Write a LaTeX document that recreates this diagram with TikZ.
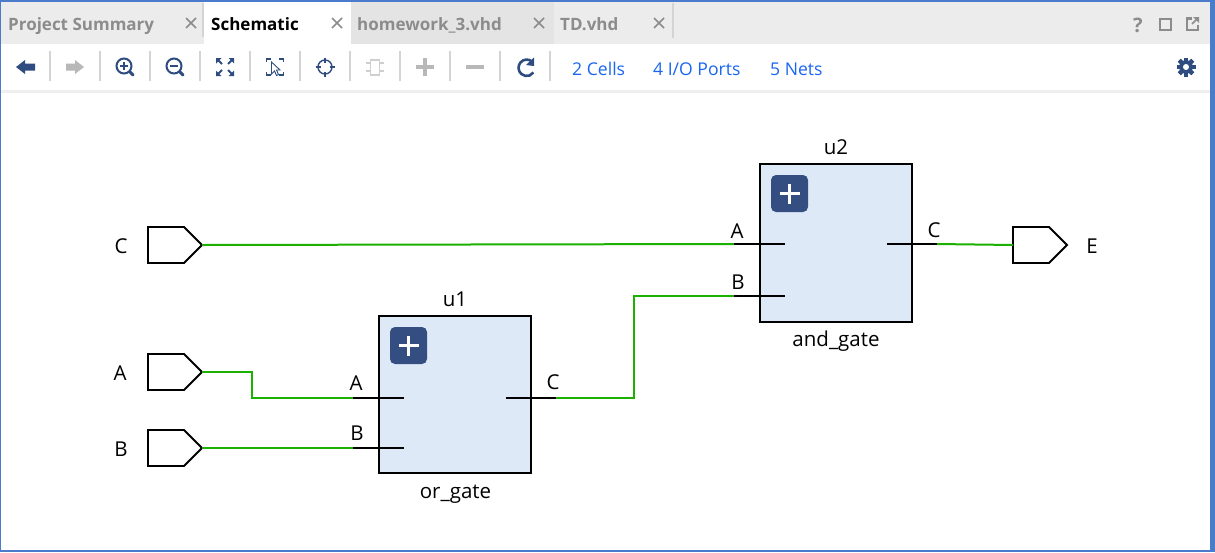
\documentclass[tikz,border=0pt]{standalone}
\usepackage{fontspec}
\setmainfont{Open Sans}
\usetikzlibrary{shapes.symbols}
\definecolor{frameblue}{HTML}{4A7CCB}
\definecolor{tabgrey}{HTML}{ECECEC}
\definecolor{tabdark}{HTML}{E4E4E4}
\definecolor{sepgrey}{HTML}{D4D4D4}
\definecolor{tabtext}{HTML}{8C8C8C}
\definecolor{iconblue}{HTML}{2F4C80}
\definecolor{icongrey}{HTML}{B8B8B8}
\definecolor{chipgrey}{HTML}{CFCFCF}
\definecolor{linkblue}{HTML}{1A66F0}
\definecolor{netgreen}{HTML}{1CB000}
\definecolor{cellblue}{HTML}{DEE9F7}
\definecolor{plusblue}{HTML}{344E82}
\tikzset{
  x=1pt,y=-1pt,
  tabtxt/.style={font=\fontsize{17}{20}\selectfont\bfseries,text=tabtext,inner sep=0pt,anchor=base west},
  linktxt/.style={font=\fontsize{17.6}{20}\selectfont,text=linkblue,inner sep=0pt,anchor=base west},
  closex/.style={draw=tabtext,line width=1.5pt},
  tbsep/.style={draw=sepgrey,line width=1.6pt},
  iconb/.style={draw=iconblue,line width=2pt},
  icong/.style={draw=icongrey,line width=2pt},
  portbox/.style={signal,signal to=east,signal pointer angle=90,draw=black,line width=1.8pt,fill=white,
    minimum width=54pt,minimum height=36pt,inner sep=0pt,outer sep=0pt},
  cellbox/.style={draw=black,line width=2pt,fill=cellblue,minimum width=152pt,minimum height=157pt,inner sep=0pt},
  net/.style={draw=netgreen,line width=2pt},
  pin/.style={draw=black,line width=2pt},
  lab/.style={font=\fontsize{20.5}{24}\selectfont,inner sep=0pt,text=black},
  plusbadge/.style={fill=plusblue,rounded corners=5pt,minimum size=37pt,inner sep=0pt},
}
\newcommand{\closemark}[2]{\draw[closex] (#1-5,#2-5) -- (#1+5,#2+5) (#1-5,#2+5) -- (#1+5,#2-5);}
\newcommand{\badgeplus}[2]{\draw[white,line width=3.4pt] (#1-10,#2) -- (#1+10,#2) (#1,#2-10) -- (#1,#2+10);}
\begin{document}
\begin{tikzpicture}
\useasboundingbox (0,0) rectangle (1215,552);
% window
\fill[white] (0,0) rectangle (1215,552);
\fill[tabgrey] (1,2) rectangle (1210,44);
\fill[white] (204,2) rectangle (351,44);
\fill[tabdark] (351,2) rectangle (554,44);
\draw[sepgrey,line width=2.4pt] (203,3) -- (203,37);
\draw[sepgrey,line width=1.2pt] (673,3) -- (673,38);
\fill[tabdark!60!white] (0,90) rectangle (1210,93);
% tabs
\node[tabtxt] (t1) at (8,30) {Project Summary};
\node[tabtxt,text=black] (t2) at (211,30) {Schematic};
\node[tabtxt] (t3) at (357,30) {homework\_3.vhd};
\node[tabtxt] (t4) at (560,30) {TD.vhd};
\closemark{191}{23}\closemark{337}{23}\closemark{539}{23}\closemark{659}{23}
% toolbar separators
\foreach \sx in {50,100,...,550} {\draw[tbsep] (\sx,51) -- (\sx,81);}
% back / forward
\fill[iconblue] (16,67) -- (25,60) -- (25,63.5) -- (35,63.5) -- (35,70.5) -- (25,70.5) -- (25,74) -- cycle;
\fill[icongrey] (84,67) -- (75,60) -- (75,63.5) -- (66,63.5) -- (66,70.5) -- (75,70.5) -- (75,74) -- cycle;
% zoom in / out
\draw[iconb] (124,66) circle (7.5);
\draw[iconb,line width=3pt,line cap=round] (130,72) -- (133,75);
\draw[iconb,line width=1.6pt] (120,66) -- (128,66) (124,62) -- (124,70);
\draw[iconb] (174,66) circle (7.5);
\draw[iconb,line width=3pt,line cap=round] (180,72) -- (183,75);
\draw[iconb,line width=1.6pt] (170,66) -- (178,66);
% fit
\foreach \sa/\sb in {1/1,1/-1,-1/1,-1/-1}{
  \draw[iconb] (225+\sa*3,67+\sb*3) -- (225+\sa*8,67+\sb*8);
  \fill[iconblue] (225+\sa*9,67+\sb*9) -- (225+\sa*3.5,67+\sb*9) -- (225+\sa*9,67+\sb*3.5) -- cycle;
}
% select
\draw[iconb,line width=1.4pt] (266.5,62) -- (266.5,59) -- (271,59) (279,59) -- (283.5,59) -- (283.5,62)
  (283.5,72) -- (283.5,75) -- (279,75) (271,75) -- (266.5,75) -- (266.5,72);
\draw[iconblue,line width=.9pt,fill=white] (271.5,62) -- (280,70) -- (276.5,70) -- (278.5,74.5) -- (276.5,75.5) -- (274.5,71) -- (271.5,74) -- cycle;
% crosshair
\draw[iconb,line width=1.4pt] (325,67) circle (7);
\draw[iconb,line width=1.6pt] (325,57.5) -- (325,62.5) (325,71.5) -- (325,76.5) (315.5,67) -- (320.5,67) (329.5,67) -- (334.5,67);
% chip
\draw[chipgrey,line width=1.6pt] (370.5,60) rectangle (379.5,75);
\draw[chipgrey,line width=1.6pt] (366,63) -- (370.5,63) (366,71) -- (370.5,71) (379.5,63) -- (384,63) (379.5,71) -- (384,71);
% plus minus
\draw[icong,line width=4pt] (416,67) -- (434,67) (425,58) -- (425,76);
\draw[icong,line width=4pt] (466,67) -- (484,67);
% refresh
\draw[iconb,line width=2.6pt] (532,61.5) arc (-50:-325:8.2);
\fill[iconblue] (534,57.5) -- (534,66) -- (526,65) -- cycle;
% link labels
\node[linktxt] (l1) at (572,75) {2 Cells};
\node[linktxt] (l2) at (653,75) {4 I/O Ports};
\node[linktxt] (l3) at (770,75) {5 Nets};
% gear
\foreach \ga in {0,45,...,315}{\fill[iconblue,rotate around={\ga:(1186,67)}] (1184,57.5) rectangle (1188,76.5);}
\fill[iconblue] (1186,67) circle (6.8);
\fill[white] (1186,67) circle (3);
% window buttons
\node[font=\fontsize{20}{22}\selectfont\bfseries,text=tabtext,inner sep=0pt] (help) at (1138,25) {?};
\draw[tabtext,line width=2.2pt] (1160,19) rectangle (1171,30);
\draw[tabtext,line width=2.2pt] (1192,18.5) -- (1187,18.5) -- (1187,30) -- (1198,30) -- (1198,25);
\draw[tabtext,line width=1.6pt] (1192,24) -- (1197,19);
\fill[tabtext] (1199,17) -- (1193,17) -- (1199,23) -- cycle;
% cells
\node[cellbox,minimum height=157pt] (u1) at (455,394.5) {};
\node[cellbox,minimum height=158pt] (u2) at (836,243) {};
\node[plusbadge] (b1) at (408.5,345.5) {};
\node[plusbadge] (b2) at (789.5,193.5) {};
\badgeplus{408.5}{345.5}\badgeplus{789.5}{193.5}
% pin coordinates
\coordinate (u1Aout) at (353,398); \coordinate (u1Ain) at (404,398);
\coordinate (u1Bout) at (353,448); \coordinate (u1Bin) at (404,448);
\coordinate (u1Cin) at (506,398);  \coordinate (u1Cout) at (556,398);
\coordinate (u2Aout) at (734,244); \coordinate (u2Ain) at (785,244);
\coordinate (u2Bout) at (734,296); \coordinate (u2Bin) at (785,296);
\coordinate (u2Cin) at (887,244);  \coordinate (u2Cout) at (937,244);
% ports
\node[portbox,anchor=east] (pC) at (202,245) {};
\node[portbox,anchor=east] (pA) at (202,372) {};
\node[portbox,anchor=east] (pB) at (202,448) {};
\node[portbox,anchor=west] (pE) at (1013,245) {};
% nets
\draw[net] (pC.east) -- (u2Aout);
\draw[net] (pA.east) -- (252,372) -- (252,398) -- (u1Aout);
\draw[net] (pB.east) -- (u1Bout);
\draw[net] (u1Cout) -- (634,398) -- (634,296) -- (u2Bout);
\draw[net] (u2Cout) -- (pE.west);
% pins
\draw[pin] (u1Aout) -- (u1Ain);
\draw[pin] (u1Bout) -- (u1Bin);
\draw[pin] (u1Cin) -- (u1Cout);
\draw[pin] (u2Aout) -- (u2Ain);
\draw[pin] (u2Bout) -- (u2Bin);
\draw[pin] (u2Cin) -- (u2Cout);
% labels
\node[lab] (lC) at (121,246) {C};
\node[lab] (lA) at (120,373) {A};
\node[lab] (lB) at (121,449) {B};
\node[lab] (lE) at (1092,246) {E};
\node[lab] (lu1) at (455,299) {u1};
\node[lab] (lu2) at (836,147) {u2};
\node[lab,anchor=base] (lor) at (455.5,498) {or\_gate};
\node[lab,anchor=base] (land) at (836,346) {and\_gate};
\node[lab] (a1) at (356,383) {A};
\node[lab] (b1l) at (357,433) {B};
\node[lab] (c1) at (553,382) {C};
\node[lab] (a2) at (737,231) {A};
\node[lab] (b2l) at (738,282) {B};
\node[lab] (c2) at (934,230) {C};
% frame
\fill[frameblue] (0,0) rectangle (1215,2);
\fill[frameblue] (0,0) rectangle (1,552);
\fill[frameblue] (1210,0) rectangle (1215,552);
\fill[frameblue] (0,550) rectangle (1215,552);
\end{tikzpicture}
\end{document}
